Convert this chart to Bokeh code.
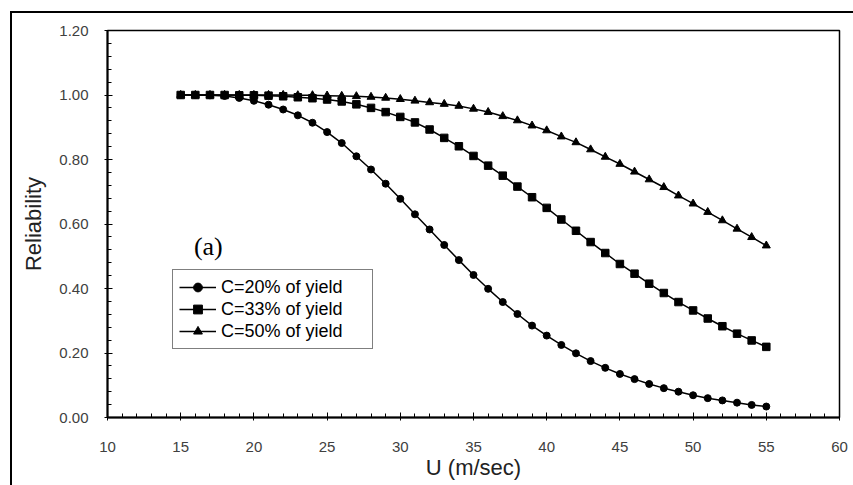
from bokeh.plotting import figure
from bokeh.models import SingleIntervalTicker, Label, Range1d, NumeralTickFormatter
from bokeh.embed import file_html
from bokeh.resources import INLINE

u = list(range(15, 56))

c20 = [1.000, 1.000, 0.999, 0.997, 0.991, 0.982, 0.970, 0.955, 0.937, 0.914,
       0.885, 0.851, 0.810, 0.769, 0.725, 0.678, 0.630, 0.583, 0.535, 0.488,
       0.442, 0.399, 0.358, 0.321, 0.285, 0.254, 0.225, 0.199, 0.175, 0.154,
       0.135, 0.119, 0.104, 0.091, 0.080, 0.069, 0.060, 0.053, 0.046, 0.039,
       0.034]

c33 = [1.000, 1.000, 1.000, 1.000, 0.999, 0.999, 0.998, 0.996, 0.993, 0.990,
       0.986, 0.980, 0.971, 0.960, 0.947, 0.932, 0.915, 0.893, 0.867, 0.841,
       0.811, 0.781, 0.750, 0.716, 0.683, 0.650, 0.614, 0.579, 0.544, 0.510,
       0.476, 0.446, 0.415, 0.386, 0.358, 0.332, 0.307, 0.283, 0.260, 0.239,
       0.219]

c50 = [1.000, 1.000, 1.000, 1.000, 1.000, 1.000, 1.000, 1.000, 0.999, 0.999,
       0.998, 0.997, 0.996, 0.994, 0.991, 0.987, 0.982, 0.977, 0.972, 0.966,
       0.957, 0.947, 0.934, 0.921, 0.905, 0.890, 0.871, 0.853, 0.831, 0.808,
       0.786, 0.762, 0.738, 0.714, 0.688, 0.663, 0.637, 0.611, 0.585, 0.559,
       0.533]

labels = ["C=20% of yield", "C=33% of yield", "C=50% of yield"]

FONT = "Liberation Sans"

p = figure(width=853, height=485, output_backend="svg", toolbar_location=None,
           x_range=Range1d(10, 60), y_range=Range1d(0, 1.2000001),
           min_border_left=107, min_border_right=14, min_border_top=30, min_border_bottom=68)
p.background_fill_color = "white"
p.border_fill_alpha = 0
p.styles = {
    "background": "linear-gradient(#000,#000) 10px 11px / 2px 100% no-repeat, "
                  "linear-gradient(#000,#000) 10px 11px / 100% 2px no-repeat, #ffffff"
}
p.grid.visible = False
p.outline_line_color = "black"
p.outline_line_width = 1.5

p.xaxis.ticker = SingleIntervalTicker(interval=5, num_minor_ticks=5)
p.yaxis.ticker = SingleIntervalTicker(interval=0.2, num_minor_ticks=5)
p.yaxis.formatter = NumeralTickFormatter(format="0.00")

for ax in (p.xaxis[0], p.yaxis[0]):
    ax.axis_line_width = 2
    ax.axis_line_color = "black"
    ax.major_tick_in = 5
    ax.major_tick_out = 3
    ax.minor_tick_in = 4
    ax.minor_tick_out = 0
    ax.major_tick_line_color = "black"
    ax.minor_tick_line_color = "black"
    ax.major_label_text_font = FONT
    ax.major_label_text_font_size = "15px"
    ax.major_label_text_color = "#404040"
    ax.axis_label_text_font = FONT
    ax.axis_label_text_font_size = "22px"
    ax.axis_label_text_font_style = "normal"
    ax.axis_label_text_color = "#222222"

p.xaxis.axis_label = "U (m/sec)"
p.yaxis.axis_label = "Reliability"
p.yaxis.major_label_standoff = 16
p.xaxis.major_label_standoff = 21
p.yaxis.axis_label_standoff = 10
p.xaxis.axis_label_standoff = 0

series = [(c20, "circle", 7), (c33, "square", 7.5), (c50, "triangle", 8)]
for (vals, marker, size), lab in zip(series, labels):
    p.line(u, vals, line_color="black", line_width=1.5, legend_label=lab)
    p.scatter(u, vals, marker=marker, size=size, fill_color="black", line_color="black",
              legend_label=lab)

lg = p.legend[0]
lg.location = (65, 68)
lg.border_line_color = "black"
lg.border_line_width = 1
lg.background_fill_color = "white"
lg.background_fill_alpha = 1
lg.label_text_font = FONT
lg.label_text_font_size = "18px"
lg.label_text_color = "black"
lg.glyph_width = 37
lg.glyph_height = 22
lg.label_height = 22
lg.label_width = 145
lg.label_standoff = 5
lg.spacing = 0
lg.padding = 6
lg.margin = 0

p.add_layout(Label(x=15.9, y=0.53, text="(a)", text_font="Liberation Serif",
                   text_font_size="26px", text_baseline="middle", text_color="black"))

open("out.html", "w").write(file_html(p, INLINE))
